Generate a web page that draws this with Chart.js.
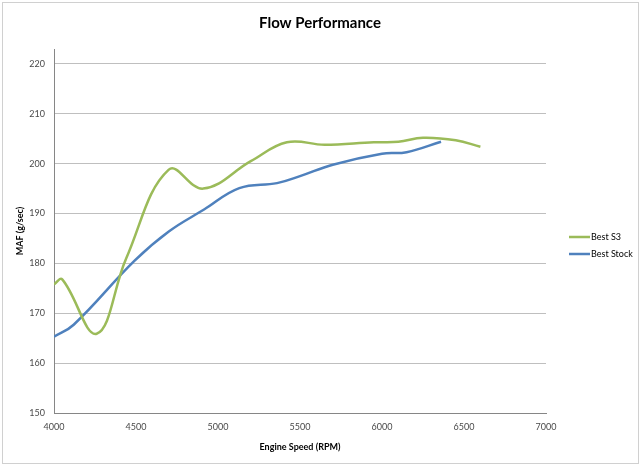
<!DOCTYPE html>
<html>
<head>
<meta charset="utf-8">
<script src="https://cdn.jsdelivr.net/npm/chart.js@4/dist/chart.umd.min.js"></script>
<style>
  html, body { margin: 0; padding: 0; background: #fff; }
  #wrap { width: 640px; height: 465px; }
</style>
</head>
<body>
<div id="wrap"><canvas id="myChart" width="640" height="465"></canvas></div>
<script>
// values
const chartTitle = 'Flow Performance';
const xTitle = 'Engine Speed (RPM)';
const yTitle = 'MAF (g/sec)';

const s3Label = 'Best S3';
const s3Rpm = [4000, 4050, 4260, 4440, 4700, 4910, 5200, 5420, 5650, 5950, 6100, 6250, 6450, 6600];
const s3Maf = [175.8, 176.8, 165.9, 181, 198.8, 195, 200.5, 204.3, 203.8, 204.3, 204.4, 205.2, 204.7, 203.4];

const stockLabel = 'Best Stock';
const stockRpm = [4000, 4120, 4490, 4700, 4915, 5130, 5360, 5500, 5700, 6000, 6150, 6360];
const stockMaf = [165.3, 167.7, 180.5, 186.4, 190.8, 195.1, 196.1, 197.5, 199.8, 202.0, 202.3, 204.4];

const xTicks = [4000, 4500, 5000, 5500, 6000, 6500, 7000];
const yTicks = [150, 160, 170, 180, 190, 200, 210, 220];

const toPoints = (xs, ys) => xs.map((x, i) => ({ x: x, y: ys[i] }));

const fontFamily = 'Lato, "Open Sans", sans-serif';
const tickColor = '#4a4a4a';

// frame, title and legend drawn like the Excel original
const excelDecor = {
  id: 'excelDecor',
  beforeDraw(chart) {
    const ctx = chart.ctx;
    ctx.save();
    ctx.fillStyle = '#fff';
    ctx.fillRect(0, 0, chart.width, chart.height);
    ctx.strokeStyle = '#d0d0d0';
    ctx.lineWidth = 1;
    ctx.strokeRect(2.5, 2.5, chart.width - 4, chart.height - 4);
    ctx.restore();
  },
  afterDraw(chart) {
    const ctx = chart.ctx;
    ctx.save();
    ctx.fillStyle = '#000';
    ctx.font = 'bold 15px ' + fontFamily;
    ctx.textAlign = 'center';
    ctx.textBaseline = 'middle';
    ctx.fillText(chartTitle, chart.width / 2, 23);

    ctx.font = '9px ' + fontFamily;
    ctx.textAlign = 'left';
    chart.data.datasets.forEach((ds, i) => {
      const y = 237 + i * 17;
      ctx.strokeStyle = ds.borderColor;
      ctx.lineWidth = 2.5;
      ctx.beginPath();
      ctx.moveTo(569, y);
      ctx.lineTo(590, y);
      ctx.stroke();
      ctx.fillStyle = '#000';
      ctx.fillText(ds.label, 591, y + 0.5);
    });
    ctx.restore();
  }
};

const ctx = document.getElementById('myChart').getContext('2d');
new Chart(ctx, {
  type: 'scatter',
  data: {
    datasets: [
      {
        label: s3Label,
        data: toPoints(s3Rpm, s3Maf),
        showLine: true,
        borderColor: '#9BBB59',
        backgroundColor: '#9BBB59',
        borderWidth: 2.5,
        pointRadius: 0,
        tension: 0.4
      },
      {
        label: stockLabel,
        data: toPoints(stockRpm, stockMaf),
        showLine: true,
        borderColor: '#4F81BD',
        backgroundColor: '#4F81BD',
        borderWidth: 2.5,
        pointRadius: 0,
        tension: 0.4
      }
    ]
  },
  options: {
    responsive: false,
    animation: false,
    layout: { padding: { left: 0, right: 94, top: 49, bottom: 12 } },
    plugins: {
      legend: { display: false },
      title: { display: false },
      tooltip: { enabled: false }
    },
    scales: {
      x: {
        type: 'linear',
        min: 4000,
        max: 7000,
        afterBuildTicks: (axis) => { axis.ticks = xTicks.map(v => ({ value: v })); },
        afterFit: (axis) => { axis.height = 40; },
        grid: { display: false, drawTicks: false },
        border: { color: '#868686', width: 1 },
        ticks: {
          padding: 9, color: tickColor, font: { family: fontFamily, size: 9 }, maxRotation: 0,
          callback: (v) => String(v)
        },
        title: { display: true, text: xTitle, color: '#000', font: { family: fontFamily, size: 9, weight: 'bold' }, padding: { top: 0, bottom: 1 } }
      },
      y: {
        min: 150,
        max: 223,
        afterBuildTicks: (axis) => { axis.ticks = yTicks.map(v => ({ value: v })); },
        afterFit: (axis) => { axis.width = 54; },
        grid: { color: '#bfbfbf', lineWidth: 1, drawTicks: false },
        border: { color: '#868686', width: 1 },
        ticks: { padding: 9, color: tickColor, font: { family: fontFamily, size: 9 }, callback: (v) => String(v) },
        title: { display: true, text: yTitle, color: '#000', font: { family: fontFamily, size: 9, weight: 'bold' }, padding: { top: 15, bottom: 0 } }
      }
    }
  },
  plugins: [excelDecor]
});
</script>
</body>
</html>
